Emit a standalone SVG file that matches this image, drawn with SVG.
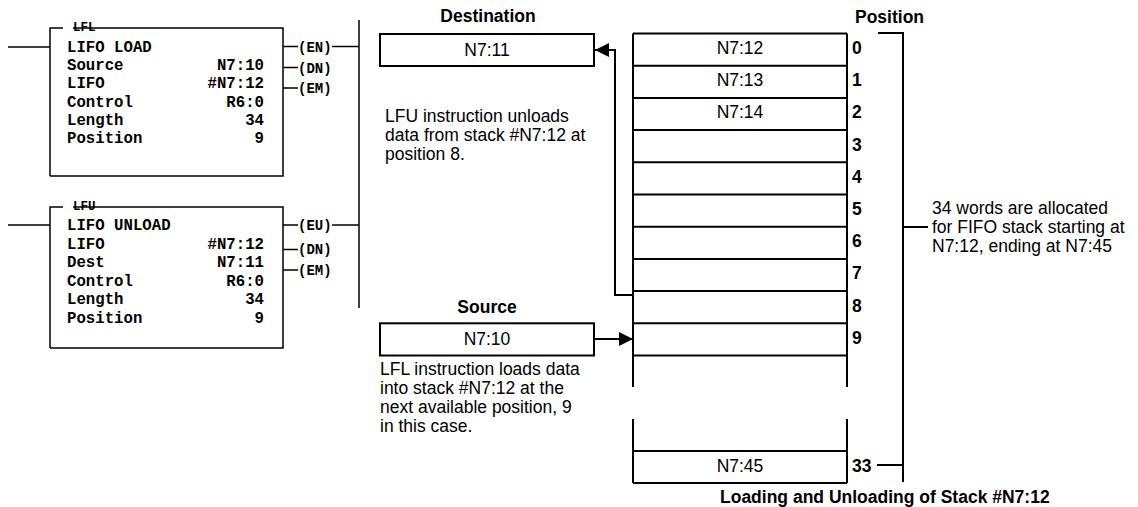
<svg xmlns="http://www.w3.org/2000/svg" width="1138" height="507" viewBox="0 0 1138 507">
<style>
.ln{stroke:#000;stroke-width:2;fill:none}
.th{stroke:#000;stroke-width:1.5;fill:none}
.bx{stroke:#000;stroke-width:2;fill:#fff}
.mono{font-family:"Liberation Mono","Courier New",monospace;font-weight:bold;font-size:15.7px;fill:#000}
.out{font-size:14px}
.ttl{font-size:12.5px}
.r{text-anchor:end}
.body{font-family:"Liberation Sans",Arial,sans-serif;font-size:17.5px;fill:#000}
.hd{font-family:"Liberation Sans",Arial,sans-serif;font-size:17.5px;font-weight:bold;fill:#000}
.c{text-anchor:middle}
</style>
<defs>
<marker id="ah" markerWidth="14" markerHeight="14" refX="14" refY="7" orient="auto" markerUnits="userSpaceOnUse">
<path d="M0,0 L14,7 L0,14 Z" fill="#000"/>
</marker>
</defs>
<rect width="1138" height="507" fill="#fff"/>

<g id="lfl">
<path class="th" d="M8,47 H50 M50,176 V28 H63 M73,28 H283 V176 H50"/>
<text class="mono ttl" x="73" y="31">LFL</text>
<text class="mono" x="67" y="52">LIFO LOAD</text>
<text class="mono" x="67" y="70.2">Source</text><text class="mono r" x="264" y="70.2">N7:10</text>
<text class="mono" x="67" y="88.4">LIFO</text><text class="mono r" x="264" y="88.4">#N7:12</text>
<text class="mono" x="67" y="106.6">Control</text><text class="mono r" x="264" y="106.6">R6:0</text>
<text class="mono" x="67" y="124.8">Length</text><text class="mono r" x="264" y="124.8">34</text>
<text class="mono" x="67" y="143">Position</text><text class="mono r" x="264" y="143">9</text>
<path class="th" d="M283,46.5 H298 M332,46.5 H359 M283,67.5 H298 M283,88 H298"/>
<text class="mono out" x="298" y="51.5">(EN)</text>
<text class="mono out" x="298" y="72.5">(DN)</text>
<text class="mono out" x="298" y="93">(EM)</text>
</g>

<g id="lfu">
<path class="th" d="M8,225 H50 M50,348 V207 H63 M73,207 H283 V348 H50"/>
<text class="mono ttl" x="73" y="210">LFU</text>
<text class="mono" x="67" y="230">LIFO UNLOAD</text>
<text class="mono" x="67" y="248.5">LIFO</text><text class="mono r" x="264" y="248.5">#N7:12</text>
<text class="mono" x="67" y="267">Dest</text><text class="mono r" x="264" y="267">N7:11</text>
<text class="mono" x="67" y="285.5">Control</text><text class="mono r" x="264" y="285.5">R6:0</text>
<text class="mono" x="67" y="304">Length</text><text class="mono r" x="264" y="304">34</text>
<text class="mono" x="67" y="322.5">Position</text><text class="mono r" x="264" y="322.5">9</text>
<path class="th" d="M283,225 H298 M332,225 H359 M283,249.5 H298 M283,270 H298"/>
<text class="mono out" x="298" y="230">(EU)</text>
<text class="mono out" x="298" y="254">(DN)</text>
<text class="mono out" x="298" y="274.5">(EM)</text>
</g>

<g id="rail">
<path class="th" d="M359,20 V308"/>
</g>

<g id="destination">
<text class="hd c" x="488" y="22">Destination</text>
<rect class="bx" x="380" y="34" width="214" height="32"/>
<text class="body c" x="487" y="56">N7:11</text>
</g>

<g id="source">
<text class="hd c" x="487" y="313">Source</text>
<rect class="bx" x="380" y="323.3" width="214" height="32.2"/>
<text class="body c" x="487" y="345">N7:10</text>
</g>

<g id="stack">
<path class="ln" d="M633,33.5 V387 M847,33.5 V387 M633,419 V483 M847,419 V483"/>
<path class="ln" d="M633,33.5 H847 M633,65.7 H847 M633,97.9 H847 M633,130.1 H847 M633,162.3 H847 M633,194.5 H847 M633,226.7 H847 M633,258.9 H847 M633,291.1 H847 M633,323.3 H847 M633,355.5 H847 M633,451 H847 M633,483 H847"/>
<text class="body c" x="740" y="53.5">N7:12</text>
<text class="body c" x="740" y="85.7">N7:13</text>
<text class="body c" x="740" y="117.9">N7:14</text>
<text class="body c" x="740" y="471.5">N7:45</text>
<text class="hd" x="855" y="23">Position</text>
<text class="hd" x="852" y="54">0</text>
<text class="hd" x="852" y="86.2">1</text>
<text class="hd" x="852" y="118.4">2</text>
<text class="hd" x="852" y="150.6">3</text>
<text class="hd" x="852" y="182.8">4</text>
<text class="hd" x="852" y="215">5</text>
<text class="hd" x="852" y="247.2">6</text>
<text class="hd" x="852" y="279.4">7</text>
<text class="hd" x="852" y="311.6">8</text>
<text class="hd" x="852" y="343.8">9</text>
<text class="hd" x="852" y="472">33</text>
</g>

<g id="bracket">
<path class="ln" d="M878,33 H903 V482 M903,227 H928 M877,465 H903"/>
<text class="body" x="932" y="214">34 words are allocated</text>
<text class="body" x="932" y="233">for FIFO stack starting at</text>
<text class="body" x="932" y="252">N7:12, ending at N7:45</text>
</g>

<g id="notes">
<text class="body" x="385" y="122">LFU instruction unloads</text>
<text class="body" x="385" y="141">data from stack #N7:12 at</text>
<text class="body" x="385" y="160">position 8.</text>
<text class="body" x="380" y="375">LFL instruction loads data</text>
<text class="body" x="380" y="394">into stack #N7:12 at the</text>
<text class="body" x="380" y="413">next available position, 9</text>
<text class="body" x="380" y="432">in this case.</text>
</g>

<g id="caption">
<text class="hd" x="720" y="503">Loading and Unloading of Stack #N7:12</text>
</g>

<g id="connectors">
<path class="ln" d="M633,295 H615 V50 H595" marker-end="url(#ah)"/>
<path class="ln" d="M594,339 H633" marker-end="url(#ah)"/>
</g>
</svg>
